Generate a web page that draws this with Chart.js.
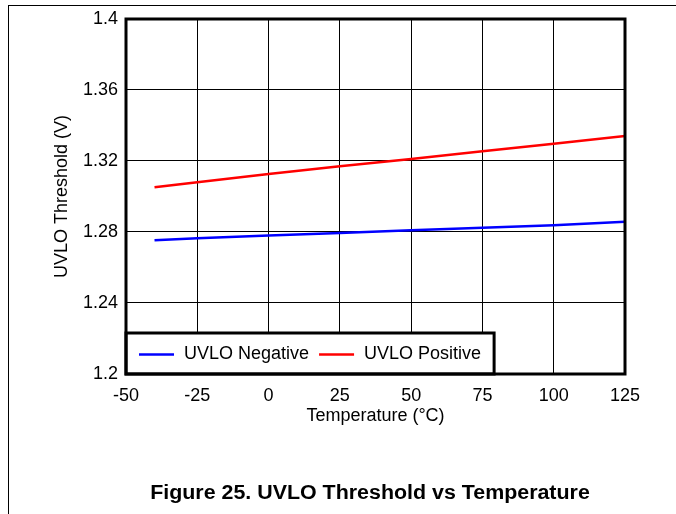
<!DOCTYPE html>
<html>
<head>
<meta charset="utf-8">
<script src="https://cdn.jsdelivr.net/npm/chart.js@4/dist/chart.umd.min.js"></script>
<style>
  body { margin: 0; background: #fff; }
  #page { position: relative; width: 676px; height: 514px; overflow: hidden; }
  #frame { position: absolute; left: 8px; top: 5px; right: -10px; bottom: -10px;
           border-top: 1.5px solid #000; border-left: 1.5px solid #000; }
  #chart { position: absolute; left: 0; top: 0; }
  #caption { position: absolute; left: 0; width: 740px; top: 481px; text-align: center;
             font: bold 20px "Liberation Sans", Arial, sans-serif; color: #000;
             transform: scaleX(1.07); transform-origin: 370px 0; }
</style>
</head>
<body>
<div id="page">
  <div id="frame"></div>
  <canvas id="chart" width="676" height="514"></canvas>
  <div id="caption">Figure 25. UVLO Threshold vs Temperature</div>
</div>
<script>
const temps = [-40, -25, 0, 25, 50, 75, 100, 125];
const uvloNegative = [1.2753, 1.2765, 1.2780, 1.2795, 1.2810, 1.2824, 1.2838, 1.2858];
const uvloPositive = [1.3052, 1.3080, 1.3127, 1.3170, 1.3211, 1.3255, 1.3297, 1.3341];
const xTicks = [-50, -25, 0, 25, 50, 75, 100, 125];
const yTicks = [1.2, 1.24, 1.28, 1.32, 1.36, 1.4];

const font = { family: '"Liberation Sans", Arial, sans-serif', size: 18 };

// legend box sitting inside the plot, bottom-left
const insideLegend = {
  id: 'insideLegend',
  afterDatasetsDraw(chart) {
    const { ctx, chartArea } = chart;
    ctx.save();
    ctx.font = '18px "Liberation Sans", Arial, sans-serif';
    const pad = 13, sample = 35, gap = 10;
    let w = pad;
    chart.data.datasets.forEach((ds, i) => {
      w += sample + gap + ctx.measureText(ds.label).width + (i < chart.data.datasets.length - 1 ? gap : 0);
    });
    w += pad;
    const h = 41;
    const x0 = chartArea.left, y0 = chartArea.bottom - h;
    ctx.fillStyle = '#fff';
    ctx.fillRect(x0, y0, w, h);
    ctx.lineWidth = 3;
    ctx.strokeStyle = '#000';
    ctx.strokeRect(x0, y0, w, h);
    let x = x0 + pad;
    const ym = y0 + h / 2 + 1;
    ctx.textBaseline = 'middle';
    chart.data.datasets.forEach(ds => {
      ctx.strokeStyle = ds.borderColor;
      ctx.lineWidth = 2.5;
      ctx.beginPath();
      ctx.moveTo(x, ym);
      ctx.lineTo(x + sample, ym);
      ctx.stroke();
      x += sample + gap;
      ctx.fillStyle = '#000';
      ctx.fillText(ds.label, x, ym);
      x += ctx.measureText(ds.label).width + gap;
    });
    ctx.restore();
  },
  afterDraw(chart) {
    const { ctx, chartArea } = chart;
    ctx.save();
    ctx.lineWidth = 3;
    ctx.strokeStyle = '#000';
    ctx.strokeRect(chartArea.left, chartArea.top, chartArea.right - chartArea.left, chartArea.bottom - chartArea.top);
    ctx.restore();
  }
};

new Chart(document.getElementById('chart'), {
  type: 'line',
  data: {
    datasets: [{
      label: 'UVLO Negative',
      data: temps.map((t, i) => ({ x: t, y: uvloNegative[i] })),
      borderColor: '#0000ff',
      borderWidth: 2.5,
      pointRadius: 0,
      tension: 0
    }, {
      label: 'UVLO Positive',
      data: temps.map((t, i) => ({ x: t, y: uvloPositive[i] })),
      borderColor: '#ff0000',
      borderWidth: 2.5,
      pointRadius: 0,
      tension: 0
    }]
  },
  options: {
    responsive: false,
    animation: false,
    layout: { padding: { left: 51, right: 51, top: 19, bottom: 87 } },
    plugins: { legend: { display: false }, tooltip: { enabled: false } },
    scales: {
      x: {
        type: 'linear',
        min: xTicks[0],
        max: xTicks[xTicks.length - 1],
        afterBuildTicks: s => { s.ticks = xTicks.map(v => ({ value: v })); },
        afterFit: s => { s.height = 53; },
        grid: { color: '#000', lineWidth: 1, drawTicks: false },
        border: { display: false },
        ticks: { color: '#000', font, padding: 11, maxRotation: 0 },
        title: { display: true, text: 'Temperature (°C)', color: '#000', font, padding: 0 }
      },
      y: {
        min: yTicks[0],
        max: yTicks[yTicks.length - 1],
        afterBuildTicks: s => { s.ticks = yTicks.map(v => ({ value: v })); },
        afterFit: s => { s.width = 75; },
        grid: { color: '#000', lineWidth: 1, drawTicks: false },
        border: { display: false },
        ticks: { color: '#000', font, padding: 8, callback: v => String(Number(v.toFixed(2))) },
        title: { display: true, text: 'UVLO Threshold (V)', color: '#000', font, padding: 0 }
      }
    }
  },
  plugins: [insideLegend]
});
</script>
</body>
</html>
